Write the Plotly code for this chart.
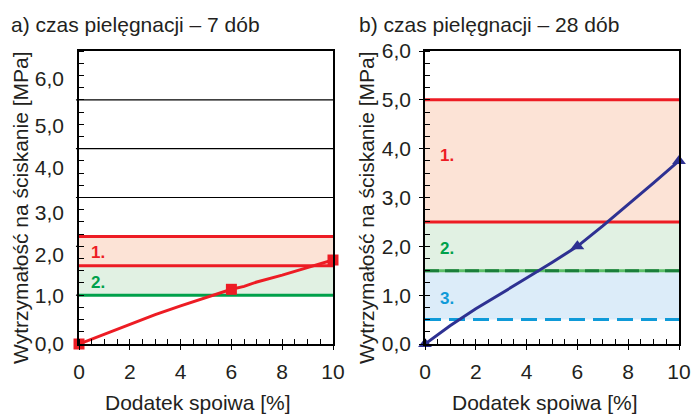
import plotly.graph_objects as go

# ---------------- data ----------------
x_a_line = [0, 1, 2, 3, 4, 5, 6, 6.5, 7, 8, 9, 10]
y_a_line = [0, 0.2, 0.4, 0.6, 0.78, 0.95, 1.12, 1.18, 1.27, 1.41, 1.56, 1.72]
x_a_pts = [0, 6, 10]
y_a_pts = [0, 1.12, 1.72]

x_b_line = [0, 1, 2, 3, 4, 5, 6, 7, 8, 9, 10]
y_b_line = [0, 0.38, 0.72, 1.03, 1.35, 1.67, 2.0, 2.42, 2.85, 3.3, 3.75]
x_b_pts = [0, 6, 10]
y_b_pts = [0, 2.0, 3.75]

# panel a requirement bands (lower, upper)
band_a_red = [1.6, 2.2]
band_a_green = [1.0, 1.6]
grid_a = [3.0, 4.0, 5.0]

# panel b requirement bands
band_b_red = [2.5, 5.0]
band_b_green = [1.5, 2.5]
band_b_blue = [0.5, 1.5]

# panel a tick labels (positions as printed in the original)
ytick_a_vals = [0, 1.0, 1.83, 2.70, 3.61, 4.48, 5.44]
ytick_a_text = ["0,0", "1,0", "2,0", "3,0", "4,0", "5,0", "6,0"]
ytick_b_vals = [0, 1, 2, 3, 4, 5, 6]
ytick_b_text = ["0,0", "1,0", "2,0", "3,0", "4,0", "5,0", "6,0"]
xtick_vals = [0, 2, 4, 6, 8, 10]
xtick_text = ["0", "2", "4", "6", "8", "10"]

title_a = "a) czas pielęgnacji – 7 dób"
title_b = "b) czas pielęgnacji – 28 dób"
x_title = "Dodatek spoiwa [%]"
y_title = "Wytrzymałość na ściskanie [MPa]"

# ---------------- style ----------------
FONT = "Liberation Sans, Arial, sans-serif"
TXT = "#231f20"
RED = "#ed1c24"
GREEN = "#00a14b"
DKGREEN = "#1b7f3b"
LTGREEN = "#5cbf6a"
BLUE = "#0f9ad8"
NAVY = "#2e3192"
PINK_F = "#fce3d6"
GREEN_F = "#e1f1e3"
BLUE_F = "#dcecf9"

W, H = 691, 416
fig = go.Figure()

fig.add_trace(go.Scatter(x=x_a_line, y=y_a_line, mode="lines", line=dict(color=RED, width=3),
                         xaxis="x", yaxis="y", cliponaxis=False, showlegend=False))
fig.add_trace(go.Scatter(x=x_a_pts, y=y_a_pts, mode="markers",
                         marker=dict(symbol="square", size=11, color=RED),
                         xaxis="x", yaxis="y", cliponaxis=False, showlegend=False))
fig.add_trace(go.Scatter(x=x_b_line, y=y_b_line, mode="lines", line=dict(color=NAVY, width=3),
                         xaxis="x2", yaxis="y2", cliponaxis=False, showlegend=False))
fig.add_trace(go.Scatter(x=x_b_pts, y=y_b_pts, mode="markers",
                         marker=dict(symbol="triangle-up", size=12, color=NAVY),
                         xaxis="x2", yaxis="y2", cliponaxis=False, showlegend=False))

shapes = []
def rect(xr, yr, y0, y1, color):
    shapes.append(dict(type="rect", xref=xr + " domain", yref=yr, x0=0, x1=1, y0=y0, y1=y1,
                       fillcolor=color, line=dict(width=0), layer="below"))

def hline(xr, yr, y, color, width=3, dash="solid", x0=0, x1=1, layer="above"):
    shapes.append(dict(type="line", xref=xr + " domain", yref=yr, x0=x0, x1=x1, y0=y, y1=y,
                       line=dict(color=color, width=width, dash=dash), layer=layer))

# panel a
rect("x", "y", band_a_red[0], band_a_red[1], PINK_F)
rect("x", "y", band_a_green[0], band_a_green[1], GREEN_F)
for g in grid_a:
    hline("x", "y", g, "#000000", width=1.2, x0=-0.012, x1=1, layer="below")
for v in [1.0, 2.0]:
    hline("x", "y", v, "#000000", width=1.2, x0=-0.012, x1=0, layer="below")
hline("x", "y", band_a_red[1], RED, layer="below")
hline("x", "y", band_a_red[0], RED, layer="below")
hline("x", "y", band_a_green[0], GREEN, layer="below")

# panel b
rect("x2", "y2", band_b_red[0], band_b_red[1], PINK_F)
rect("x2", "y2", band_b_green[0], band_b_green[1], GREEN_F)
rect("x2", "y2", band_b_blue[0], band_b_blue[1], BLUE_F)
hline("x2", "y2", band_b_red[1], RED, layer="below")
hline("x2", "y2", band_b_red[0], RED, layer="below")
hline("x2", "y2", band_b_green[0], LTGREEN, layer="below")
hline("x2", "y2", band_b_green[0], DKGREEN, dash="14px,6px", layer="below")
hline("x2", "y2", band_b_blue[0], BLUE, dash="16px,8px", layer="below")

ann = []
def lab(xr, yr, x, y, text, color):
    ann.append(dict(xref=xr, yref=yr, x=x, y=y, text="<b>" + text + "</b>", showarrow=False,
                    font=dict(family=FONT, size=17, color=color), xanchor="left", yanchor="middle"))

lab("x", "y", 0.4, 1.87, "1.", RED)
lab("x", "y", 0.4, 1.26, "2.", GREEN)
lab("x2", "y2", 0.5, 3.87, "1.", RED)
lab("x2", "y2", 0.5, 1.96, "2.", GREEN)
lab("x2", "y2", 0.5, 0.94, "3.", BLUE)

def ptext(x, y, text, rot=0, xa="left"):
    ann.append(dict(xref="paper", yref="paper", x=x / W, y=1 - y / H, text=text, showarrow=False,
                    textangle=rot, xanchor=xa, yanchor="middle",
                    font=dict(family=FONT, size=21, color=TXT)))

ptext(9, 24, title_a)
ptext(357, 24, title_b)
ptext(198, 402, x_title, xa="center")
ptext(545, 402, x_title, xa="center")
ptext(20, 208, y_title, rot=-90, xa="center")
ptext(366, 208, y_title, rot=-90, xa="center")

ydom = [1 - 344 / H, 1 - 51 / H]
axfont = dict(family=FONT, size=21, color=TXT)

def xaxis(dom, anchor):
    return dict(domain=dom, anchor=anchor, range=[0, 10], tickmode="array", tickvals=xtick_vals,
                ticktext=xtick_text, ticks="outside", ticklen=4, tickwidth=1.2, tickcolor="#000",
                minor=dict(tickmode="linear", tick0=0, dtick=0.5, ticks="inside", ticklen=5,
                           tickwidth=1.2, tickcolor="#000", showgrid=False),
                showline=True, linecolor="#000", linewidth=1.5, mirror=True, showgrid=False,
                zeroline=False, tickfont=axfont, ticklabelstandoff=4, fixedrange=True,
                automargin=False)

fig.update_layout(
    width=W, height=H, margin=dict(l=0, r=0, t=0, b=0, pad=0, autoexpand=False),
    paper_bgcolor="white", plot_bgcolor="white",
    font=dict(family=FONT, color=TXT),
    shapes=shapes, annotations=ann, showlegend=False,
    xaxis=xaxis([79 / W, 333 / W], "y"),
    xaxis2=xaxis([425 / W, 679 / W], "y2"),
    yaxis=dict(domain=ydom, anchor="x", range=[0, 6], tickmode="array", tickvals=ytick_a_vals,
               ticktext=ytick_a_text, ticks="",
               minor=dict(tickmode="array", tickvals=[i * 0.25 for i in range(25)], ticks="inside",
                          ticklen=5, tickwidth=1.2, tickcolor="#000", showgrid=False),
               showline=True, linecolor="#000", linewidth=1.5, mirror=True, showgrid=False,
               zeroline=False, tickfont=axfont, ticklabelstandoff=9, fixedrange=True,
               automargin=False),
    yaxis2=dict(domain=ydom, anchor="x2", range=[0, 6], tickmode="array", tickvals=ytick_b_vals,
                ticktext=ytick_b_text, ticks="outside", ticklen=4, tickwidth=1.2, tickcolor="#000",
                minor=dict(tickmode="linear", tick0=0, dtick=0.25, ticks="inside",
                           ticklen=5, tickwidth=1.2, tickcolor="#000", showgrid=False),
                showline=True, linecolor="#000", linewidth=1.5, mirror=True, showgrid=False,
                zeroline=False, tickfont=axfont, ticklabelstandoff=4, fixedrange=True,
                automargin=False),
)

fig.write_html("out.html", config={"displayModeBar": False},
               post_script="document.body.style.margin='0px';document.body.style.overflow='hidden';")
